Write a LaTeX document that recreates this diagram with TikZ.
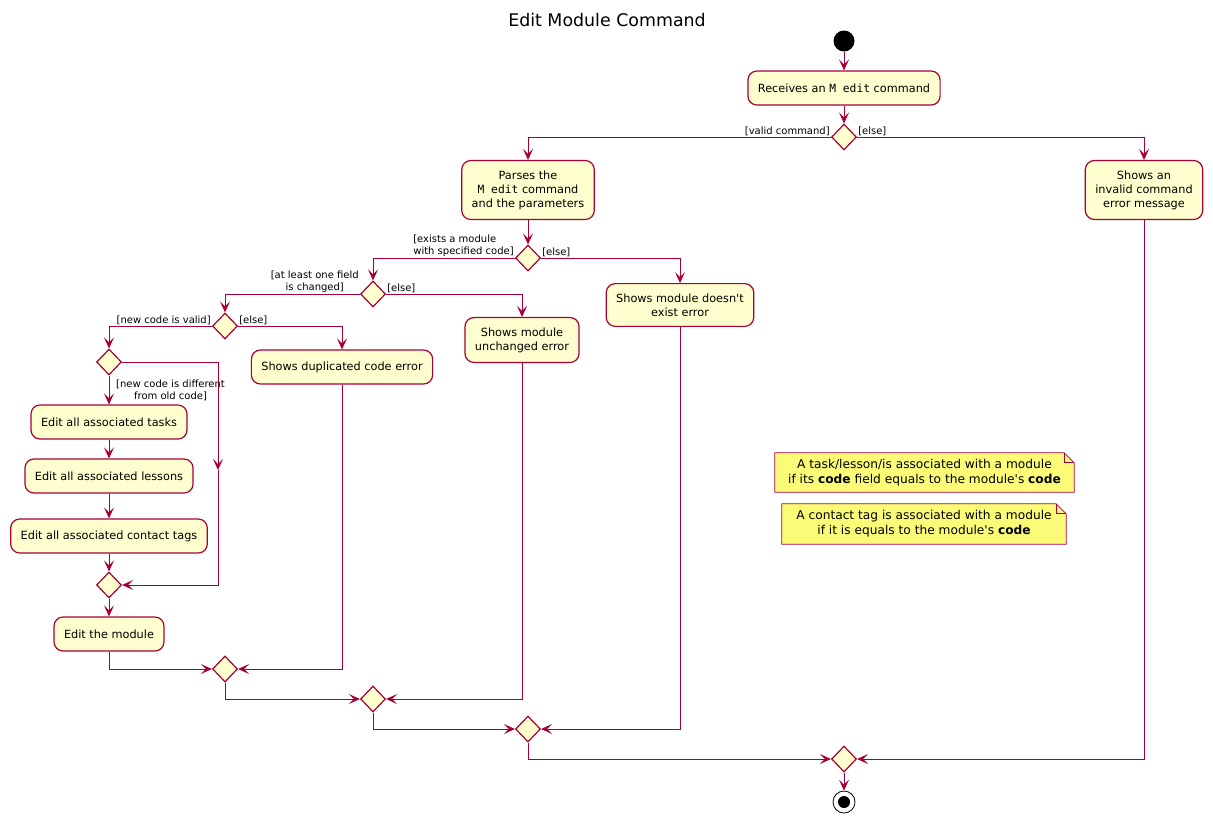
\documentclass[tikz,border=0pt]{standalone}
\usepackage{fontspec}
\setmainfont{DejaVu Sans}
\setmonofont{DejaVu Sans Mono}
\usetikzlibrary{arrows.meta}
\usetikzlibrary{positioning}
\usetikzlibrary{shapes.geometric}
\definecolor{umlred}{HTML}{A80036}
\definecolor{umlfill}{HTML}{FEFECE}
\definecolor{notefill}{HTML}{FBFB77}
\tikzset{act/.style = {draw=umlred, fill=umlfill, line width=1.2pt, rounded corners=9pt, align=center, inner xsep=10pt, inner ysep=10pt, minimum height=34pt, font=\fontsize{11.3}{14}\selectfont}}
\tikzset{branch/.style = {diamond, draw=umlred, fill=umlfill, line width=1.2pt, inner sep=0, minimum width=25pt, minimum height=26pt}}
\tikzset{flow/.style = {draw=umlred, line width=1pt, -{Stealth[length=11pt, width=10pt, inset=5pt]}}}
\tikzset{guard/.style = {font=\fontsize{10}{12}\selectfont, inner sep=1pt}}
\tikzset{note/.style = {fill=notefill, align=center, inner sep=0, font=\fontsize{12.2}{15}\selectfont}}

\begin{document}
\begin{tikzpicture}[x=1pt, y=-1pt]
  \useasboundingbox (0,0) rectangle (1213,823);
  \node [font=\fontsize{17.4}{20}\selectfont] (title) at (607,20) {Edit Module Command};

  \node [circle, fill=black, minimum size=21pt, inner sep=0] (start) at (844,41) {};
  \node [act] (recv) at (844,88) {Receives an \texttt{M edit} command};
  \node [branch] (d1) at (844,137) {};
  \node [act] (parse) at (528,190) {Parses the\\\texttt{M edit} command\\and the parameters};
  \node [act] (invalid) at (1144,190) {Shows an\\invalid command\\error message};
  \node [branch] (d2) at (528,258) {};
  \node [act] (noexist) at (680,305) {Shows module doesn\textquotesingle t\\exist error};
  \node [branch] (d3) at (373,294) {};
  \node [act] (unchanged) at (522,340) {Shows module\\unchanged error};
  \node [branch] (d4) at (225,326) {};
  \node [act] (dup) at (342,367) {Shows duplicated code error};
  \node [branch] (d5) at (109,362) {};
  \node [act] (tasks) at (109,422) {Edit all associated tasks};
  \node [act] (lessons) at (109,476) {Edit all associated lessons};
  \node [act] (tags) at (109,536) {Edit all associated contact tags};
  \node [branch] (d6) at (109,585) {};
  \node [act] (editmod) at (109,634) {Edit the module};
  \node [branch] (m1) at (225,669) {};
  \node [branch] (m2) at (373,699) {};
  \node [branch] (m3) at (528,729) {};
  \node [branch] (m4) at (844,759) {};
  \node [circle, draw=black, line width=0.8pt, minimum size=22pt, inner sep=0] (stop) at (844,802) {};
  \node [circle, fill=black, minimum size=12pt, inner sep=0] (stopdot) at (stop) {};
  \coordinate (skip) at (218,470);

  \node [guard, anchor=south east] (gvalid) at (d1.west) {[valid command]};
  \node [guard, anchor=south west] (gelse1) at (d1.east) {[else]};
  \node [guard, anchor=south east, align=left] (gexists) at (d2.west) {[exists a module\\ with specified code]};
  \node [guard, anchor=south west] (gelse2) at (d2.east) {[else]};
  \node [guard, anchor=south east, align=center] (gchanged) at (d3.west) {[at least one field\\is changed]};
  \node [guard, anchor=south west] (gelse3) at (d3.east) {[else]};
  \node [guard, anchor=south east] (gcodevalid) at (d4.west) {[new code is valid]};
  \node [guard, anchor=south west] (gelse4) at (d4.east) {[else]};
  \node [guard, anchor=north west, align=center] (gdiff) at ([xshift=6pt, yshift=-3pt]d5.south) {[new code is different\\from old code]};

  \foreach \from/\to in {start/recv, recv/d1, parse/d2, d5/tasks, tasks/lessons, lessons/tags, tags/d6, d6/editmod, m4/stop}
    \draw [flow] (\from) -- (\to);
  \foreach \from/\to in {d1/parse, d2/d3, d3/d4, d4/d5}
    \draw [flow] (\from.west) -| (\to.north);
  \foreach \from/\to in {d1/invalid, d2/noexist, d3/unchanged, d4/dup, d5/skip}
    \draw [flow] (\from.east) -| (\to.north);
  \draw [flow] (skip) |- (d6.east);
  \foreach \from/\to in {editmod/m1, m1/m2, m2/m3, m3/m4}
    \draw [flow] (\from.south) |- (\to.west);
  \foreach \from/\to in {dup/m1, unchanged/m2, noexist/m3, invalid/m4}
    \draw [flow] (\from.south) |- (\to.east);

  \node [note, minimum width=299pt, minimum height=39pt] (note1) at (924.5,472.5) {A task/lesson/is associated with a module\\if its \textbf{code} field equals to the module\textquotesingle s \textbf{code}};
  \node [note, minimum width=284pt, minimum height=40pt] (note2) at (924,524) {A contact tag is associated with a module\\if it is equals to the module\textquotesingle s \textbf{code}};
  \foreach \n in {note1, note2}{
    \fill [white] ([xshift=-10pt]\n.north east) -- (\n.north east) -- ([yshift=-10pt]\n.north east) -- cycle;
    \draw [umlred, line width=0.8pt] (\n.north west) -- ([xshift=-10pt]\n.north east) -- ([yshift=-10pt]\n.north east) -- (\n.south east) -- (\n.south west) -- cycle;
    \draw [umlred, line width=0.8pt] ([xshift=-10pt]\n.north east) -- ([xshift=-10pt, yshift=-10pt]\n.north east) -- ([yshift=-10pt]\n.north east);
  }
\end{tikzpicture}
\end{document}
